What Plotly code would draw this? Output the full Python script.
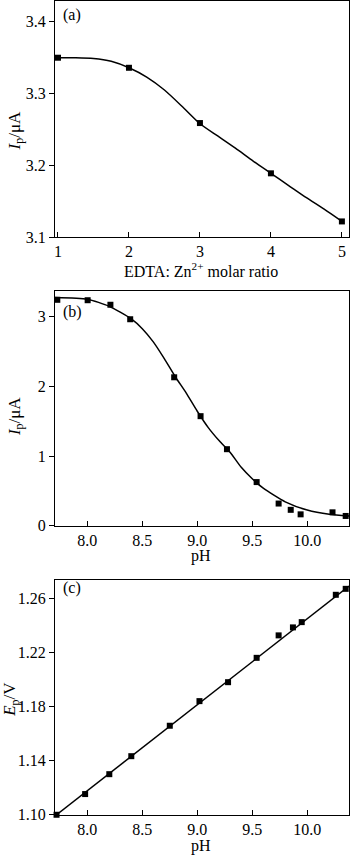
import plotly.graph_objects as go

# ---- Panel (a) data ----
ratio = [1, 2, 3, 4, 5]
ip_a = [3.350, 3.336, 3.259, 3.189, 3.122]
ratio_fit = [1.0, 1.25, 1.5, 1.75, 2.0, 2.25, 2.5, 2.75, 3.0, 3.25, 3.5, 3.75, 4.0, 4.25, 4.5, 4.75, 5.0]
ip_a_fit = [3.350, 3.350, 3.349, 3.345, 3.336, 3.323, 3.305, 3.282, 3.258, 3.241, 3.224, 3.206, 3.189, 3.172, 3.155, 3.139, 3.122]

# ---- Panel (b) data ----
ph_b = [7.727, 8.003, 8.21, 8.39, 8.79, 9.03, 9.27, 9.54, 9.74, 9.85, 9.94, 10.23, 10.35]
ip_b = [3.244, 3.238, 3.173, 2.965, 2.132, 1.574, 1.10, 0.628, 0.32, 0.23, 0.165, 0.194, 0.142]
ph_b_fit = [7.706, 8.0, 8.2, 8.4, 8.5, 8.6, 8.7, 8.8, 8.9, 9.0, 9.1, 9.2, 9.3, 9.4, 9.5, 9.6, 9.8, 10.0, 10.2, 10.38]
ip_b_fit = [3.277, 3.253, 3.15, 2.97, 2.83, 2.64, 2.40, 2.14, 1.905, 1.645, 1.41, 1.22, 1.054, 0.84, 0.676, 0.54, 0.345, 0.227, 0.166, 0.142]

# ---- Panel (c) data ----
ph_c = [7.72, 7.98, 8.20, 8.40, 8.75, 9.02, 9.28, 9.54, 9.74, 9.87, 9.95, 10.26, 10.35]
ep_c = [1.100, 1.1153, 1.130, 1.1433, 1.1658, 1.184, 1.198, 1.216, 1.2326, 1.2385, 1.2424, 1.2626, 1.267]
ph_c_fit = [7.72, 10.38]
ep_c_fit = [1.100, 1.2690]

FONT = "'Liberation Serif', 'Times New Roman', Times, serif"
FS = 16
FT = 17
BLACK = "#000000"

fig = go.Figure()

def add_panel(xs, ys, xf, yf, n, smooth=True):
    xa = "x" if n == 1 else f"x{n}"
    ya = "y" if n == 1 else f"y{n}"
    fig.add_trace(go.Scatter(x=xf, y=yf, mode="lines", xaxis=xa, yaxis=ya,
                             line=dict(color=BLACK, width=1.5,
                                       shape="spline" if smooth else "linear", smoothing=0.6),
                             showlegend=False, hoverinfo="skip", cliponaxis=False))
    fig.add_trace(go.Scatter(x=xs, y=ys, mode="markers", xaxis=xa, yaxis=ya,
                             marker=dict(symbol="square", size=6, color=BLACK),
                             showlegend=False, cliponaxis=False))

add_panel(ratio, ip_a, ratio_fit, ip_a_fit, 1)
add_panel(ph_b, ip_b, ph_b_fit, ip_b_fit, 2)
add_panel(ph_c, ep_c, ph_c_fit, ep_c_fit, 3, smooth=False)

H = 863.0
def dom(top, bottom):
    return [1 - bottom / H, 1 - top / H]

common_x = dict(showline=True, linecolor=BLACK, linewidth=1, mirror=True,
                ticks="inside", ticklen=5, tickcolor=BLACK, showgrid=False, zeroline=False,
                tickfont=dict(family=FONT, size=FS, color=BLACK), ticklabelstandoff=0)
common_y = dict(showline=True, linecolor=BLACK, linewidth=1, mirror=True,
                ticks="outside", ticklen=5, tickcolor=BLACK, showgrid=False, zeroline=False,
                tickfont=dict(family=FONT, size=FS, color=BLACK))

fig.update_layout(
    width=350, height=863,
    margin=dict(l=55, r=1, t=0, b=0),
    paper_bgcolor="white", plot_bgcolor="white",
    font=dict(family=FONT, size=FS, color=BLACK),
    xaxis=dict(common_x, range=[0.958, 5.1], tickvals=[1, 2, 3, 4, 5], anchor="y"),
    yaxis=dict(common_y, range=[3.1, 3.429], tickvals=[3.1, 3.2, 3.3, 3.4], tickformat=".1f",
               domain=dom(0, 239), anchor="x"),
    xaxis2=dict(common_x, range=[7.706, 10.38], tickvals=[8.0, 8.5, 9.0, 9.5, 10.0], tickformat=".1f", anchor="y2"),
    yaxis2=dict(common_y, range=[0, 3.376], tickvals=[0, 1, 2, 3], domain=dom(293, 531), anchor="x2"),
    xaxis3=dict(common_x, range=[7.706, 10.38], tickvals=[8.0, 8.5, 9.0, 9.5, 10.0], tickformat=".1f", anchor="y3"),
    yaxis3=dict(common_y, range=[1.10, 1.2736], tickvals=[1.10, 1.14, 1.18, 1.22, 1.26], tickformat=".2f",
                domain=dom(585.7, 823.3), anchor="x3"),
)

def ann(text, x, y, angle=0, xanchor="center", size=FS):
    fig.add_annotation(text=text, xref="paper", yref="paper", x=x, y=y,
                       xanchor=xanchor, yanchor="middle", showarrow=False, textangle=angle,
                       font=dict(family=FONT, size=size, color=BLACK))

W = 350.0
PW = W - 56.0
def px(xp):
    return (xp - 55) / PW
def py(yp):
    return 1 - yp / H

# Panel labels
ann("(a)", px(61), py(14), xanchor="left")
ann("(b)", px(61), py(315), xanchor="left")
ann("(c)", px(61), py(594), xanchor="left")

# x titles
ann("EDTA: Zn<sup>2+</sup> molar ratio", px(201), py(272))
ann("pH", px(201), py(562))
ann("pH", px(201), py(855))

# y titles
ann("<i>I</i><sub>p</sub>/μA", px(16), py(132), angle=-90, size=FT)
ann("<i>I</i><sub>p</sub>/μA", px(16), py(421), angle=-90, size=FT)
ann("<i>E</i><sub>p</sub>/V", px(11), py(707), angle=-90, size=FT)

fig.write_html("out.html")
